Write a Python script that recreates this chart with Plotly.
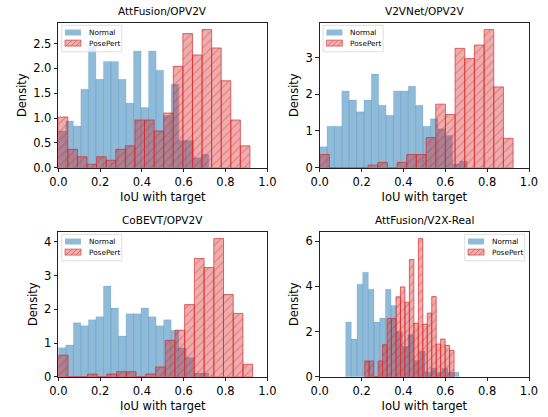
import numpy as np
import plotly.graph_objects as go

panel_titles = ["AttFusion/OPV2V", "V2VNet/OPV2V", "CoBEVT/OPV2V", "AttFusion/V2X-Real"]
series_names = ["Normal", "PosePert"]

# Density values of 20 histogram bins per series, and each series' bin range
attfusion_opv2v_normal = [0.74, 0.94, 0.84, 1.58, 2.45, 1.78, 2.14, 2.14, 1.78, 1.30,
                          2.35, 1.21, 2.35, 1.96, 1.05, 1.68, 0.55, 0.55, 0.20, 0.27]
attfusion_opv2v_posepert = [1.02, 0.37, 0.22, 0.07, 0.22, 0.15, 0.37, 0.44, 0.96, 0.96,
                            0.74, 1.10, 2.04, 2.70, 2.27, 2.78, 2.41, 1.75, 0.96, 0.44]
v2vnet_opv2v_normal = [0.57, 1.13, 1.13, 2.09, 1.84, 1.52, 1.84, 2.55, 1.70, 1.43,
                       2.09, 2.09, 2.22, 1.70, 1.13, 1.33, 1.06, 0.88, 0.10, 0.18]
v2vnet_opv2v_posepert = [0.36, 0.0, 0.0, 0.0, 0.0, 0.07, 0.145, 0.0, 0.145, 0.36,
                         0.36, 0.82, 1.73, 1.45, 3.25, 2.97, 3.34, 3.76, 2.20, 0.80]
cobevt_opv2v_normal = [0.86, 0.94, 1.60, 1.51, 1.69, 1.78, 2.69, 2.04, 1.21, 1.87,
                       1.87, 2.04, 1.78, 1.51, 1.69, 1.38, 0.85, 0.57, 0.11, 0.11]
cobevt_opv2v_posepert = [0.64, 0.0, 0.0, 0.08, 0.0, 0.08, 0.15, 0.15, 0.0, 0.08,
                         0.29, 1.08, 1.38, 2.14, 3.51, 3.24, 4.10, 2.44, 1.88, 0.37]
attfusion_v2xreal_normal = [2.42, 1.67, 4.10, 4.63, 3.88, 2.42, 2.60, 3.88, 3.16, 2.00,
                            1.34, 1.86, 0.72, 1.13, 0.20, 0.38, 0.20, 0.38, 0.20, 0.20]
attfusion_v2xreal_posepert = [0.70, 0.70, 0.0, 0.70, 1.42, 2.58, 2.58, 3.54, 3.98, 3.30,
                              5.19, 2.37, 6.12, 2.33, 2.82, 3.55, 1.45, 1.67, 1.39, 1.17]

normal_ranges = [(0.0, 0.72), (0.0, 0.705), (0.0, 0.72), (0.124, 0.666)]
posepert_ranges = [(0.0, 0.917), (0.0, 0.924), (0.0, 0.93), (0.215, 0.642)]

normal_series = [attfusion_opv2v_normal, v2vnet_opv2v_normal, cobevt_opv2v_normal, attfusion_v2xreal_normal]
posepert_series = [attfusion_opv2v_posepert, v2vnet_opv2v_posepert, cobevt_opv2v_posepert, attfusion_v2xreal_posepert]

x_tick_vals = [0.0, 0.2, 0.4, 0.6, 0.8, 1.0]
y_tick_steps = [0.5, 1, 1, 2]
y_tick_formats = [".1f", "d", "d", "d"]
legend_corner = ["left", "left", "left", "right"]

# ---- layout / style ----
W, H = 548, 417
dom_x = [[58.3 / W, 267.3 / W], [319.7 / W, 529.0 / W]]
dom_y = [[1 - 167.7 / H, 1 - 22.7 / H], [1 - 376.7 / H, 1 - 231.7 / H]]
FONT = "DejaVu Sans"
BLUE_FILL = "rgba(31,119,180,0.5)"
RED_FILL = "rgba(214,39,40,0.38)"
RED_EDGE = "rgba(214,39,40,0.75)"
RED_HATCH = "rgba(200,30,30,0.6)"

fig = go.Figure()
layout = dict(
    width=W, height=H, margin=dict(l=0, r=0, t=0, b=0),
    paper_bgcolor="white", plot_bgcolor="white", showlegend=False,
    barmode="overlay", font=dict(family=FONT, color="black", size=11.5),
    annotations=[], shapes=[],
)


def px_x(p):
    return p / W


def px_y(p):
    return 1 - p / H


for i in range(4):
    row, col = divmod(i, 2)
    sfx = "" if i == 0 else str(i + 1)
    xa, ya = "x" + sfx, "y" + sfx

    def add_hist(values, rng, name, is_pose):
        edges = np.linspace(rng[0], rng[1], len(values) + 1)
        widths = np.diff(edges)
        if is_pose:
            marker = dict(color=RED_FILL, line=dict(color=RED_EDGE, width=0.9),
                          pattern=dict(shape="/", fgcolor=RED_HATCH, size=6, solidity=0.2,
                                       fillmode="overlay"))
        else:
            marker = dict(color=BLUE_FILL, line=dict(color="rgba(31,119,180,0.3)", width=0.5))
        fig.add_trace(go.Bar(x=edges[:-1], y=values, width=widths, offset=0,
                             name=name, marker=marker, xaxis=xa, yaxis=ya))

    add_hist(normal_series[i], normal_ranges[i], series_names[0], False)
    add_hist(posepert_series[i], posepert_ranges[i], series_names[1], True)

    ymax = 1.05 * max(max(normal_series[i]), max(posepert_series[i]))
    axis_common = dict(showline=True, linecolor="#222", linewidth=1.1, mirror=True,
                       ticks="outside", ticklen=3.5, tickwidth=0.9, tickcolor="#222",
                       showgrid=False, zeroline=False, automargin=False,
                       tickfont=dict(size=11.5, family=FONT))
    layout["xaxis" + sfx] = dict(axis_common, domain=dom_x[col], anchor=ya, range=[0, 1],
                                 tickvals=x_tick_vals, tickformat=".1f",
                                 title=dict(text="IoU with target", standoff=4,
                                            font=dict(size=11.5)))
    layout["yaxis" + sfx] = dict(axis_common, domain=dom_y[row], anchor=xa, range=[0, ymax],
                                 dtick=y_tick_steps[i], tick0=0, tickformat=y_tick_formats[i],
                                 title=dict(text="Density", standoff=4, font=dict(size=11.5)))
    xc = (dom_x[col][0] + dom_x[col][1]) / 2
    layout["annotations"].append(dict(text=panel_titles[i], x=xc, y=dom_y[row][1],
                                      xref="paper", yref="paper", xanchor="center",
                                      yanchor="bottom", yshift=4, showarrow=False,
                                      font=dict(size=10.5, family=FONT)))

    # ---- legend box (drawn manually, matplotlib style) ----
    ax_left = dom_x[col][0] * W
    ax_right = dom_x[col][1] * W
    ax_top = (1 - dom_y[row][1]) * H
    box_w, box_h = 60.0, 26.5
    if legend_corner[i] == "left":
        bx0 = ax_left + 3.4
    else:
        bx0 = ax_right - 4.3 - box_w
    by0 = ax_top + 2.6
    layout["shapes"].append(dict(type="rect", xref="paper", yref="paper",
                                 x0=px_x(bx0), x1=px_x(bx0 + box_w),
                                 y0=px_y(by0), y1=px_y(by0 + box_h),
                                 fillcolor="rgba(255,255,255,0.8)",
                                 line=dict(color="#d6d6d6", width=0.8), layer="above"))
    for k, name in enumerate(series_names):
        cy = by0 + 7.2 + k * 10.6
        p0, p1 = bx0 + 3.3, bx0 + 19.3
        if k == 0:
            layout["shapes"].append(dict(type="rect", xref="paper", yref="paper",
                                         x0=px_x(p0), x1=px_x(p1), y0=px_y(cy - 3), y1=px_y(cy + 3),
                                         fillcolor=BLUE_FILL, line=dict(width=0), layer="above"))
        else:
            layout["shapes"].append(dict(type="rect", xref="paper", yref="paper",
                                         x0=px_x(p0), x1=px_x(p1), y0=px_y(cy - 3), y1=px_y(cy + 3),
                                         fillcolor=RED_FILL, line=dict(color=RED_EDGE, width=0.8),
                                         layer="above"))
            for hx in (p0 + 1, p0 + 6, p0 + 11):
                layout["shapes"].append(dict(type="line", xref="paper", yref="paper",
                                             x0=px_x(hx), x1=px_x(min(hx + 6, p1)),
                                             y0=px_y(cy + 3), y1=px_y(cy + 3 - (min(hx + 6, p1) - hx)),
                                             line=dict(color=RED_HATCH, width=0.7), layer="above"))
        layout["annotations"].append(dict(text=name, x=px_x(bx0 + 25.3), y=px_y(cy),
                                          xref="paper", yref="paper", xanchor="left",
                                          yanchor="middle", showarrow=False,
                                          font=dict(size=7.3, family=FONT)))

fig.update_layout(**layout)
fig.write_html("out.html")
